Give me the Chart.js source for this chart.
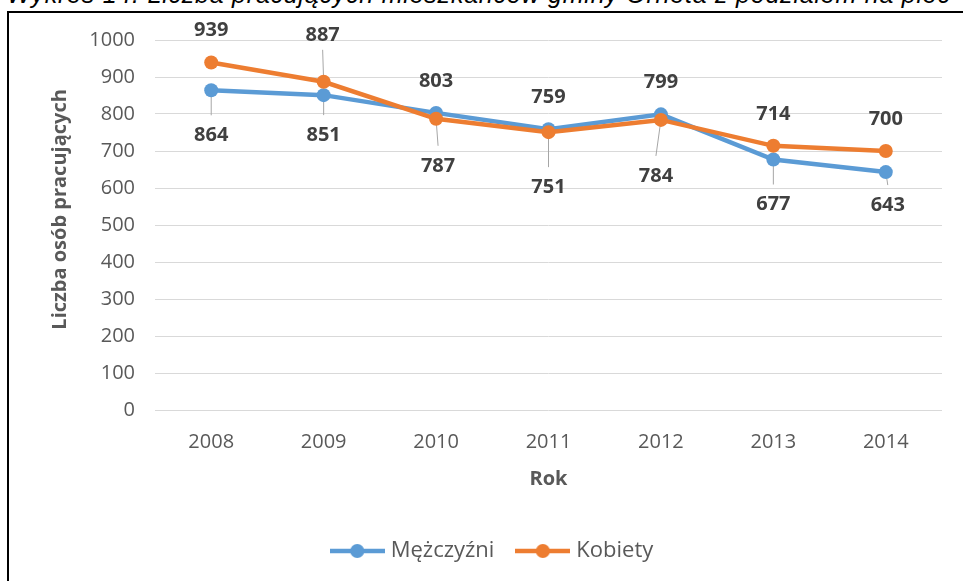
<!DOCTYPE html>
<html lang="pl">
<head>
<meta charset="utf-8">
<title>Wykres 14</title>
<script src="https://cdn.jsdelivr.net/npm/chart.js@4.4.1/dist/chart.umd.min.js"></script>
<style>
  html, body { margin: 0; padding: 0; background: #fff; overflow: hidden; }
  #wrap { position: relative; width: 963px; height: 581px; overflow: hidden; }
  #caption { position: absolute; left: 7px; top: -18px; font: italic 25px "Liberation Sans", Arial, sans-serif; line-height: 25px; white-space: nowrap; color: #000; }
  #frame { position: absolute; left: 7px; top: 11px; width: 1000px; height: 1000px; border-left: 2px solid #000; border-top: 2px solid #000; }
  #chart { position: absolute; left: 0; top: 0; }
</style>
</head>
<body>
<div id="wrap">
  <div id="caption">Wykres 14. Liczba pracujących mieszkańców gminy Orneta z podziałem na płeć</div>
  <div id="frame"></div>
  <canvas id="chart" width="963" height="581"></canvas>
</div>
<script>
// data
const years = ['2008', '2009', '2010', '2011', '2012', '2013', '2014'];
const mezczyzni = [864, 851, 803, 759, 799, 677, 643];
const kobiety = [939, 887, 787, 751, 784, 714, 700];

// where each data label sits relative to its point (px) and whether it gets a leader line
const mezczyzniLabelDy = [45, 40, -32, -32, -32, 45, 33];
const mezczyzniLabelDx = [0, 0, 0, 0, 0, 0, 2];
const mezczyzniLeader = [true, true, false, false, false, true, true];
const kobietyLabelDy = [-32, -47, 47, 55, 56, -32, -32];
const kobietyLabelDx = [0, -1, 2, 0, -5, 0, 0];
const kobietyLeader = [false, true, true, true, true, false, false];

const BLUE = '#5B9BD5';
const ORANGE = '#ED7D31';
const FONT = '"Open Sans", sans-serif';

Chart.defaults.font.family = FONT;

// stretch caption to the width of the page line
const cap = document.getElementById('caption');
const capW = cap.getBoundingClientRect().width;
cap.style.letterSpacing = ((943 - capW) / (cap.textContent.length - 1)) + 'px';

function legendIcon(color) {
    const c = document.createElement('canvas');
    c.width = 55;
    c.height = 16;
    const g = c.getContext('2d');
    g.strokeStyle = color;
    g.lineWidth = 4.5;
    g.beginPath();
    g.moveTo(0, 8);
    g.lineTo(55, 8);
    g.stroke();
    g.fillStyle = color;
    g.beginPath();
    g.arc(27.5, 8, 7, 0, Math.PI * 2);
    g.fill();
    return c;
}
const icons = [legendIcon(BLUE), legendIcon(ORANGE)];

const labelSetup = [
    { dy: mezczyzniLabelDy, dx: mezczyzniLabelDx, leader: mezczyzniLeader },
    { dy: kobietyLabelDy, dx: kobietyLabelDx, leader: kobietyLeader }
];

const dataLabels = {
    id: 'dataLabels',
    beforeDatasetsDraw(chart) {
        const ctx = chart.ctx;
        ctx.save();
        ctx.strokeStyle = '#a6a6a6';
        ctx.lineWidth = 1;
        chart.data.datasets.forEach((ds, di) => {
            const meta = chart.getDatasetMeta(di);
            const cfg = labelSetup[di];
            meta.data.forEach((pt, i) => {
                if (!cfg.leader[i]) return;
                const dy = cfg.dy[i];
                const lx = pt.x + cfg.dx[i];
                const ly = pt.y + dy + (dy > 0 ? -20 : 15);
                ctx.beginPath();
                ctx.moveTo(pt.x, pt.y);
                ctx.lineTo(lx, ly);
                ctx.stroke();
            });
        });
        ctx.restore();
    },
    afterDatasetsDraw(chart) {
        const ctx = chart.ctx;
        ctx.save();
        ctx.font = 'bold 20px ' + FONT;
        ctx.fillStyle = '#404040';
        ctx.textAlign = 'center';
        ctx.textBaseline = 'middle';
        chart.data.datasets.forEach((ds, di) => {
            const meta = chart.getDatasetMeta(di);
            const cfg = labelSetup[di];
            meta.data.forEach((pt, i) => {
                ctx.fillText(String(ds.data[i]), pt.x + cfg.dx[i], pt.y + cfg.dy[i]);
            });
        });
        ctx.restore();
    }
};

// nudge the legend a little right, like in the original
const legendShift = {
    id: 'legendShift',
    afterLayout(chart) {
        chart.legend.left += 8;
        chart.legend.right += 8;
    }
};

new Chart(document.getElementById('chart'), {
    type: 'line',
    data: {
        labels: years,
        datasets: [{
            label: 'Mężczyźni',
            data: mezczyzni,
            borderColor: BLUE,
            backgroundColor: BLUE,
            pointBackgroundColor: BLUE,
            pointBorderColor: BLUE,
            borderWidth: 4.5,
            pointRadius: 7,
            pointBorderWidth: 0,
            order: 1
        }, {
            label: 'Kobiety',
            data: kobiety,
            borderColor: ORANGE,
            backgroundColor: ORANGE,
            pointBackgroundColor: ORANGE,
            pointBorderColor: ORANGE,
            borderWidth: 4.5,
            pointRadius: 7,
            pointBorderWidth: 0,
            order: 0
        }]
    },
    options: {
        responsive: false,
        animation: false,
        devicePixelRatio: 1,
        layout: { padding: { left: 30, top: 40, right: 21, bottom: 9 } },
        plugins: {
            tooltip: { enabled: false },
            legend: {
                position: 'bottom',
                labels: {
                    usePointStyle: true,
                    pointStyleWidth: 45,
                    padding: 26,
                    color: '#595959',
                    font: { size: 22 },
                    generateLabels(chart) {
                        const items = Chart.defaults.plugins.legend.labels.generateLabels(chart);
                        items.sort((a, b) => a.datasetIndex - b.datasetIndex);
                        items.forEach(it => { it.pointStyle = icons[it.datasetIndex]; });
                        return items;
                    }
                }
            }
        },
        scales: {
            x: {
                offset: true,
                grid: { display: false },
                border: { display: false },
                ticks: { padding: 12, color: '#595959', font: { size: 20 } },
                title: {
                    display: true,
                    text: 'Rok',
                    color: '#595959',
                    font: { size: 20, weight: 'bold' },
                    padding: { top: 0, bottom: 23 }
                },
                afterFit(scale) { scale.height = 104; }
            },
            y: {
                min: 0,
                max: 1000,
                ticks: {
                    stepSize: 100,
                    padding: 20,
                    color: '#595959',
                    font: { size: 20 },
                    callback: v => String(v)
                },
                grid: { color: '#d9d9d9', lineWidth: 1, drawTicks: false },
                border: { display: false },
                title: {
                    display: true,
                    text: '      Liczba osób pracujących',
                    color: '#595959',
                    font: { size: 20, weight: 'bold' },
                    padding: { top: 18, bottom: 0 }
                },
                afterFit(scale) { scale.width = 125; }
            }
        }
    },
    plugins: [dataLabels, legendShift]
});
</script>
</body>
</html>
